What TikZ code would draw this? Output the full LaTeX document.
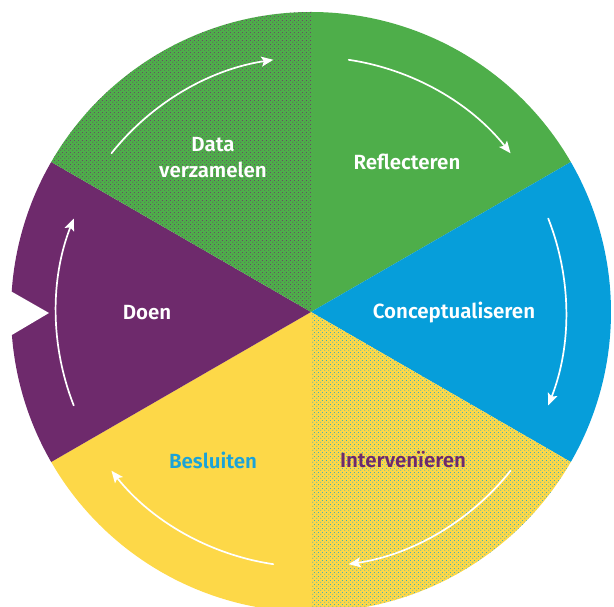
\documentclass[tikz,border=0pt]{standalone}
\usepackage{fontspec}
\setmainfont{Fira Sans}[BoldFont={Fira Sans SemiBold}]
\usetikzlibrary{arrows.meta,patterns.meta}

\definecolor{cycgreen}{RGB}{78,174,74}
\definecolor{cycblue}{RGB}{6,158,218}
\definecolor{cycpurple}{RGB}{110,42,108}
\definecolor{cycyellow}{RGB}{253,216,72}
\definecolor{cyctextblue}{RGB}{27,163,216}

% halftone dot screen laid over a flat sector colour
\tikzdeclarepattern{
  name=halftone,
  type=uncolored,
  bounding box={(0pt,0pt) and (4pt,4pt)},
  tile size={(4pt,4pt)},
  code={
    \fill (1pt,1pt) circle[radius=0.6pt];
    \fill (3pt,3pt) circle[radius=0.6pt];
  }
}

\begin{document}
\begin{tikzpicture}[x=1pt,y=1pt,
  cyclearrow/.style={white, line width=1.7pt, line cap=round,
    -{Stealth[length=12pt,width=10pt,inset=2.5pt]}},
  lbl/.style={font=\fontsize{20.5}{26}\selectfont\bfseries, align=center, inner sep=0pt}]
\useasboundingbox (0,0) rectangle (614,607);
\clip (0,0) rectangle (614,607);
\coordinate (c) at (311,295);

% six sectors of the wheel
\fill[cycgreen]  (c) -- ++(90:300)  arc[start angle=90,  end angle=30,  radius=300] -- cycle;
\fill[cycblue]   (c) -- ++(30:300)  arc[start angle=30,  end angle=-30, radius=300] -- cycle;
\fill[cycyellow] (c) -- ++(-30:300) arc[start angle=-30, end angle=-90, radius=300] -- cycle;
\fill[pattern={halftone}, pattern color=cycblue]
                 (c) -- ++(-30:300) arc[start angle=-30, end angle=-90, radius=300] -- cycle;
\fill[cycyellow] (c) -- ++(-90:300) arc[start angle=-90, end angle=-150, radius=300] -- cycle;
\fill[cycpurple] (c) -- ++(210:300) arc[start angle=210, end angle=150, radius=300] -- cycle;
\fill[cycgreen]  (c) -- ++(150:300) arc[start angle=150, end angle=90,  radius=300] -- cycle;
\fill[pattern={halftone}, pattern color=cycpurple]
                 (c) -- ++(150:300) arc[start angle=150, end angle=90,  radius=300] -- cycle;

% notch on the left rim
\fill[white] (0,322) -- (49,294) -- (0,265) -- cycle;

% clockwise arrows, one per sector
\foreach \m in {120,60,0,-60,-120,180}{
  \draw[cyclearrow, shift={(c)}] (\m+21.5:255) arc[start angle=\m+21.5, end angle=\m-21.5, radius=255];
}

% labels
\node[lbl, text=white] (data) at (213,449) {Data\\verzamelen};
\node[lbl, text=white] (refl) at (407,445) {Reflecteren};
\node[lbl, text=white] (conc) at (454,294) {Conceptualiseren};
\node[lbl, text=cycpurple] (intv) at (403,147) {Intervenïeren};
\node[lbl, text=cyctextblue] (besl) at (213,147) {Besluiten};
\node[lbl, text=white] (doen) at (147,294) {Doen};
\end{tikzpicture}
\end{document}
